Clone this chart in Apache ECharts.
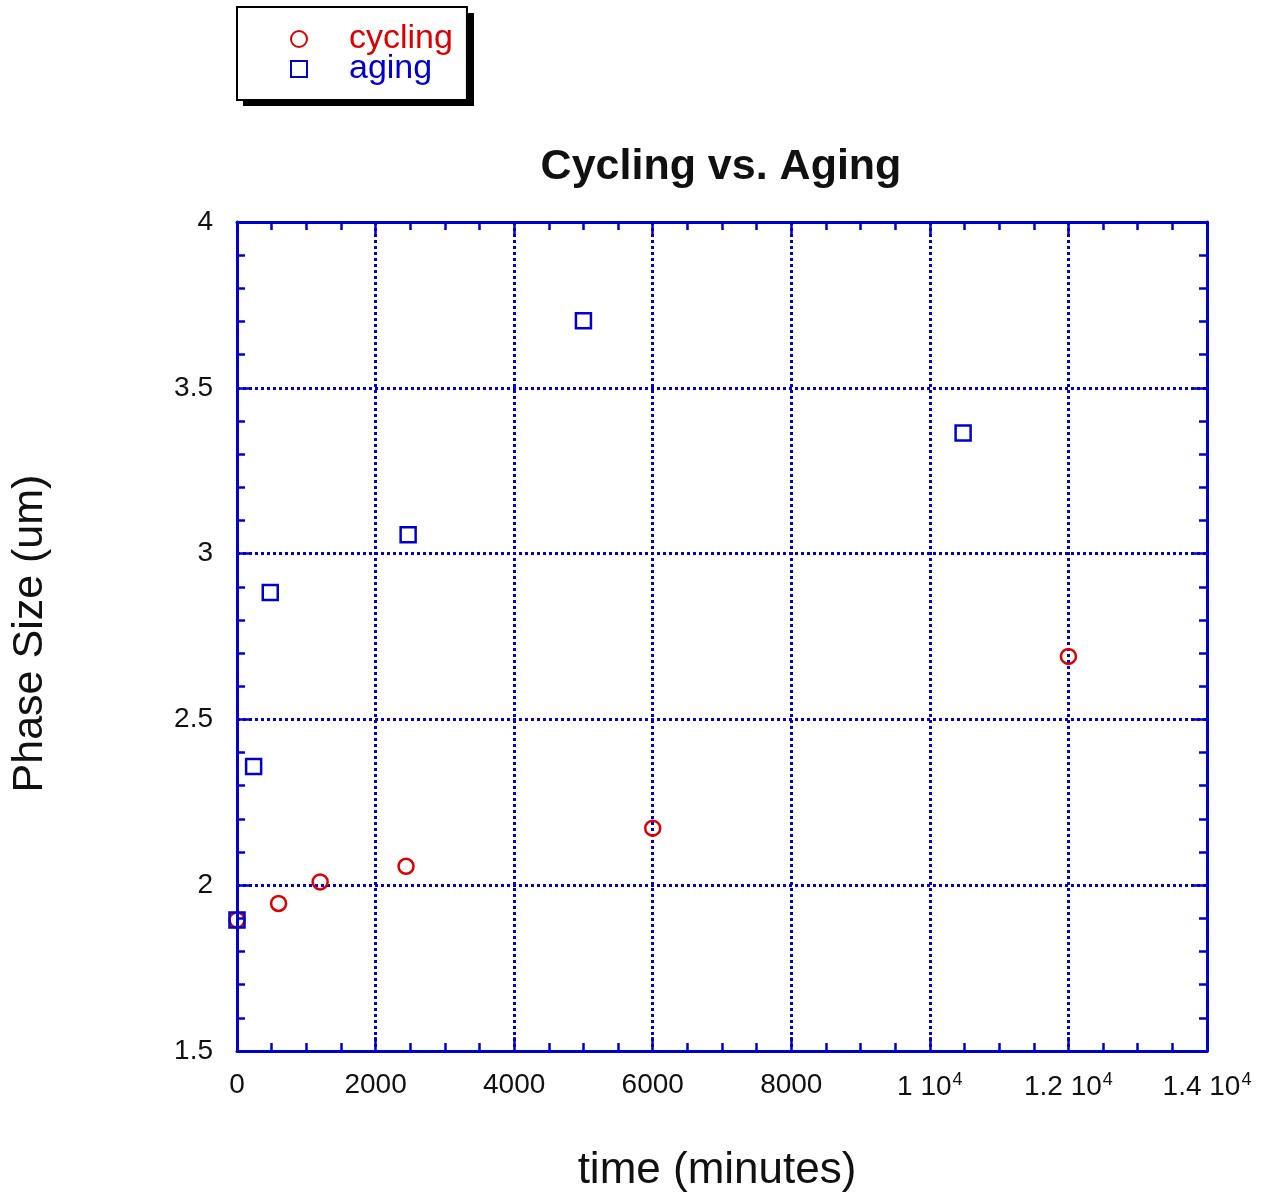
<!DOCTYPE html>
<html>
<head>
<meta charset="utf-8">
<script src="https://cdn.jsdelivr.net/npm/echarts@6/dist/echarts.min.js"></script>
<style>
    html, body { margin: 0; padding: 0; background: #fff; }
    #chart { width: 1275px; height: 1198px; }
</style>
</head>
<body>
<div id="chart"></div>
<script>
// values
const cyclingTime = [0, 600, 1200, 2440, 6000, 12000];
const cyclingSize = [1.895, 1.945, 2.01, 2.057, 2.172, 2.69];
const agingTime = [0, 240, 480, 2470, 5000, 10480];
const agingSize = [1.895, 2.358, 2.883, 3.057, 3.702, 3.364];
const seriesNames = ['cycling', 'aging'];

const blue = '#0000d0';
const red = '#dd0000';
const font = 'Arial, "Liberation Sans", Helvetica, sans-serif';

const chart = echarts.init(document.getElementById('chart'));

const toPairs = (xs, ys) => xs.map((x, i) => [x, ys[i]]);

const xLabel = function (v) {
    if (v >= 10000) {
        return '{n|' + (v / 10000) + ' 10}{sup|4}';
    }
    return '{n|' + v + '}';
};

const edgeX = (pos, show) => ({
    type: 'value',
    position: pos,
    min: 0,
    max: 14000,
    interval: 2000,
    axisLine: { show: true, onZero: false, lineStyle: { color: blue, width: 3 } },
    axisTick: { show: true, inside: true, length: 14, lineStyle: { color: blue, width: 2.5 } },
    minorTick: { show: true, splitNumber: 4, length: 8, lineStyle: { color: blue, width: 2.5 } },
    splitLine: { show: show, lineStyle: { color: blue, width: 3, type: [3, 3] } },
    axisLabel: {
        show: show,
        margin: 20,
        formatter: xLabel,
        rich: {
            n: { fontFamily: font, fontSize: 28, color: '#111' },
            sup: { fontFamily: font, fontSize: 18, color: '#111', padding: [0, 0, 14, 1] }
        }
    }
});

const edgeY = (pos, show) => ({
    type: 'value',
    position: pos,
    min: 1.5,
    max: 4,
    interval: 0.5,
    axisLine: { show: true, onZero: false, lineStyle: { color: blue, width: 3 } },
    axisTick: { show: true, inside: true, length: 15, lineStyle: { color: blue, width: 2.5 } },
    minorTick: { show: true, splitNumber: 5, length: 8, lineStyle: { color: blue, width: 2.5 } },
    splitLine: { show: show, lineStyle: { color: blue, width: 3, type: [3, 3] } },
    axisLabel: { show: show, margin: 24, fontFamily: font, fontSize: 28, color: '#111' }
});

const xBottom = edgeX('bottom', true);
xBottom.name = 'time (minutes)';
xBottom.nameLocation = 'middle';
xBottom.nameGap = 98;
xBottom.nameTextStyle = { fontFamily: font, fontSize: 44, color: '#111', padding: [0, 10, 0, 0] };

const yLeft = edgeY('left', true);
yLeft.name = 'Phase Size (um)';
yLeft.nameLocation = 'middle';
yLeft.nameGap = 185;
yLeft.nameTextStyle = { fontFamily: font, fontSize: 43, color: '#111', padding: [0, 0, 0, 6] };

chart.setOption({
    backgroundColor: '#fff',
    animation: false,
    title: {
        text: 'Cycling vs. Aging',
        left: 716,
        textAlign: 'center',
        top: 141,
        textStyle: { fontFamily: font, fontSize: 43, fontWeight: 'bold', color: '#111' }
    },
    // drop shadow behind the legend box
    graphic: [{
        type: 'rect',
        z: 0,
        shape: { x: 243, y: 13, width: 231, height: 93 },
        style: { fill: '#000' }
    }],
    legend: {
        orient: 'vertical',
        left: 237,
        top: 7,
        z: 10,
        padding: [15, 14, 14, 53],
        itemGap: -4,
        itemWidth: 16,
        itemHeight: 16,
        backgroundColor: '#fff',
        borderColor: '#000',
        borderWidth: 2,
        data: [
            { name: seriesNames[0], textStyle: { color: red } },
            { name: seriesNames[1], textStyle: { color: blue } }
        ],
        textStyle: { fontFamily: font, fontSize: 34, padding: [0, 0, 0, 37] }
    },
    grid: { left: 237, right: 68, top: 222, bottom: 146 },
    xAxis: [xBottom, edgeX('top', false)],
    yAxis: [yLeft, edgeY('right', false)],
    series: [
        {
            name: seriesNames[0],
            type: 'scatter',
            symbol: 'circle',
            symbolSize: 15,
            itemStyle: { color: 'transparent', borderColor: red, borderWidth: 2.5, opacity: 1 },
            data: toPairs(cyclingTime, cyclingSize)
        },
        {
            name: seriesNames[1],
            type: 'scatter',
            symbol: 'rect',
            symbolSize: 15,
            itemStyle: { color: 'transparent', borderColor: blue, borderWidth: 2.5, opacity: 1 },
            data: toPairs(agingTime, agingSize)
        }
    ]
});
</script>
</body>
</html>
